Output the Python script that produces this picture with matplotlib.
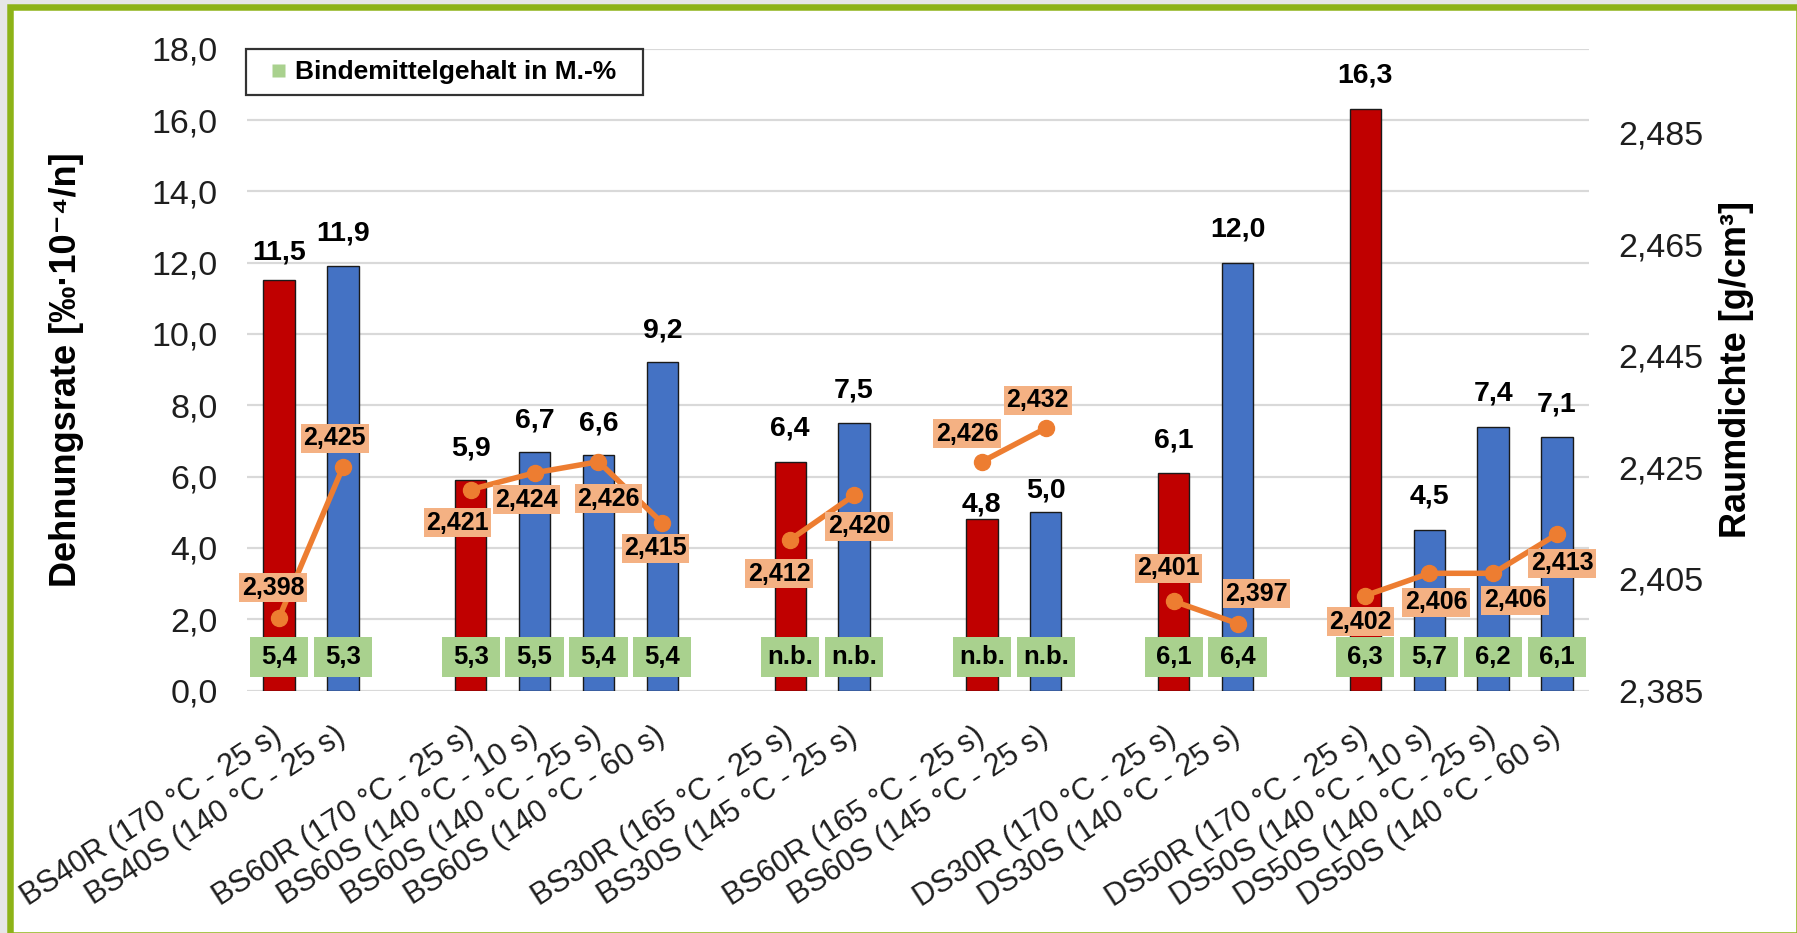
import matplotlib
matplotlib.use("Agg")
import matplotlib.pyplot as plt
from matplotlib.patches import Rectangle
from matplotlib.lines import Line2D
import matplotlib.ticker as mticker

plt.rcParams["font.family"] = ["Liberation Sans", "DejaVu Sans"]

# ---- data -----------------------------------------------------------------
categories = [
    "BS40R (170 °C - 25 s)", "BS40S (140 °C - 25 s)",
    "BS60R (170 °C - 25 s)", "BS60S (140 °C - 10 s)",
    "BS60S (140 °C - 25 s)", "BS60S (140 °C - 60 s)",
    "BS30R (165 °C - 25 s)", "BS30S (145 °C - 25 s)",
    "BS60R (165 °C - 25 s)", "BS60S (145 °C - 25 s)",
    "DS30R (170 °C - 25 s)", "DS30S (140 °C - 25 s)",
    "DS50R (170 °C - 25 s)", "DS50S (140 °C - 10 s)",
    "DS50S (140 °C - 25 s)", "DS50S (140 °C - 60 s)",
]
group_sizes = [2, 4, 2, 2, 2, 4]
dehnungsrate = [11.5, 11.9, 5.9, 6.7, 6.6, 9.2, 6.4, 7.5,
                4.8, 5.0, 6.1, 12.0, 16.3, 4.5, 7.4, 7.1]
raumdichte = [2.398, 2.425, 2.421, 2.424, 2.426, 2.415, 2.412, 2.420,
              2.426, 2.432, 2.401, 2.397, 2.402, 2.406, 2.406, 2.413]
bindemittel = [5.4, 5.3, 5.3, 5.5, 5.4, 5.4, None, None,
               None, None, 6.1, 6.4, 6.3, 5.7, 6.2, 6.1]

# ---- styling --------------------------------------------------------------
RED = "#C00000"
BLUE = "#4472C4"
ORANGE = "#ED7D31"
ORANGE_LIGHT = "#F4B183"
GREEN_LIGHT = "#A9D18E"
FRAME = "#8DB317"
GRID = "#D9D9D9"
TXT = "#1E1E1E"

W, H = 1797, 933
PX = 72 / 100  # points per pixel at 100 dpi

# label offsets in pixels (value labels above bars, density labels around points)
bar_label_off = [28, 33, 32, 31, 32, 32, 34, 33, 15, 22, 33, 33, 34, 34, 33, 33]
dens_label_off = [(-6, -30), (-8, -29), (-13, 33), (-8, 27), (10, 37), (-7, 25),
                  (-11, 34), (5, 31), (-15, -28), (-8, -28), (-5, -33), (19, -30),
                  (-5, 26), (7, 29), (22, 27), (5, 29)]


def comma(v, nd):
    return f"{v:.{nd}f}".replace(".", ",")


# bar positions: one empty slot between groups
pos = []
p = 0
for g in group_sizes:
    pos.extend(range(p, p + g))
    p += g + 1

fig = plt.figure(figsize=(W / 100, H / 100), dpi=100)
fig.patch.set_facecolor("#E6E6E6")
fig.add_artist(Rectangle((9.5 / W, -1.5 / H), (W + 1.5 - 9.5) / W, (H - 7 + 1.5) / H,
                         transform=fig.transFigure, facecolor="white",
                         edgecolor=FRAME, linewidth=6.5 * PX, zorder=-10))

ax_left, ax_right, ax_top, ax_bot = 247, 1589, 48.7, 690.5
ax = fig.add_axes([ax_left / W, 1 - ax_bot / H, (ax_right - ax_left) / W,
                   (ax_bot - ax_top) / H])
ax.set_facecolor("none")
ax.set_xlim(-0.5, pos[-1] + 0.5)
ax.set_ylim(0, 18)
ax.set_yticks([2 * i for i in range(10)])
ax.yaxis.set_major_formatter(mticker.FuncFormatter(lambda v, _: comma(v, 1)))
ax.grid(axis="y", color=GRID, linewidth=2.2 * PX, zorder=0)
ax.set_axisbelow(True)
for s in ax.spines.values():
    s.set_visible(False)
ax.tick_params(axis="y", length=0, labelsize=24.5, pad=21, labelcolor=TXT)
ax.tick_params(axis="x", length=0, pad=31, labelcolor=TXT)

colors = [RED if c[4] == "R" else BLUE for c in categories]
ax.bar(pos, dehnungsrate, width=0.49, color=colors, edgecolor="#1A1A1A",
       linewidth=1.0, zorder=2)

ax.set_xticks(pos)
ax.set_xticklabels(categories, rotation=33, ha="right", va="center",
                   rotation_mode="anchor", fontsize=22)

# value labels above the bars
for x, v, off in zip(pos, dehnungsrate, bar_label_off):
    ax.annotate(comma(v, 1), (x, v), xytext=(0, off * PX), textcoords="offset points",
                ha="center", va="center", fontsize=20.5, fontweight="bold",
                color="black", zorder=6)

# binder content boxes near the baseline
for x, b in zip(pos, bindemittel):
    ax.add_patch(Rectangle((x - 0.455, 0.38), 0.91, 1.12, facecolor=GREEN_LIGHT,
                           edgecolor="none", zorder=4))
    ax.text(x, 0.94, "n.b." if b is None else comma(b, 1), ha="center",
            va="center", fontsize=18.5, fontweight="bold", color="black", zorder=5)

legend_handle = Line2D([], [], linestyle="none", marker="s", markersize=13 * PX,
                       markerfacecolor=GREEN_LIGHT, markeredgecolor="none",
                       label="Bindemittelgehalt in M.-%")
leg = ax.legend(handles=[legend_handle], loc="upper left",
                bbox_to_anchor=(-0.0008, 1.0, 397 / (ax_right - ax_left), 0),
                mode="expand", borderaxespad=0, frameon=True, fancybox=False,
                prop=dict(weight="bold", size=19), handlelength=1.57,
                handletextpad=-0.12, borderpad=0.42)
leg.get_frame().set_edgecolor("black")
leg.get_frame().set_linewidth(2.2 * PX)
leg.set_zorder(7)

# density on the secondary axis
ax2 = ax.twinx()
ax2.set_ylim(2.385, 2.5)
ax2.set_yticks([2.385 + 0.02 * i for i in range(6)])
ax2.yaxis.set_major_formatter(mticker.FuncFormatter(lambda v, _: comma(v, 3)))
for s in ax2.spines.values():
    s.set_visible(False)
ax2.tick_params(axis="y", length=0, labelsize=24.5, pad=21, labelcolor=TXT)

start = 0
for g in group_sizes:
    xs = pos[start:start + g]
    ys = raumdichte[start:start + g]
    ax2.plot(xs, ys, color=ORANGE, linewidth=5.5 * PX, marker="o",
             markersize=16 * PX, zorder=3, solid_capstyle="round")
    start += g

for x, d, (dx, dy) in zip(pos, raumdichte, dens_label_off):
    ax2.annotate(comma(d, 3), (x, d), xytext=(dx * PX, -dy * PX),
                 textcoords="offset points", ha="center", va="center",
                 fontsize=18, fontweight="bold", color="black", zorder=5,
                 bbox=dict(boxstyle="square,pad=0.1", facecolor=ORANGE_LIGHT,
                           edgecolor="none"))

fig.text(66.5 / W, 1 - 370 / H, "Dehnungsrate [‰·10⁻⁴/n]", rotation=90,
         ha="center", va="center", fontsize=26, fontweight="bold", color="black")
fig.text(1736 / W, 1 - 370 / H, "Raumdichte [g/cm³]", rotation=90,
         ha="center", va="center", fontsize=26, fontweight="bold", color="black")

fig.savefig("out.png", dpi=100, facecolor=fig.get_facecolor())
